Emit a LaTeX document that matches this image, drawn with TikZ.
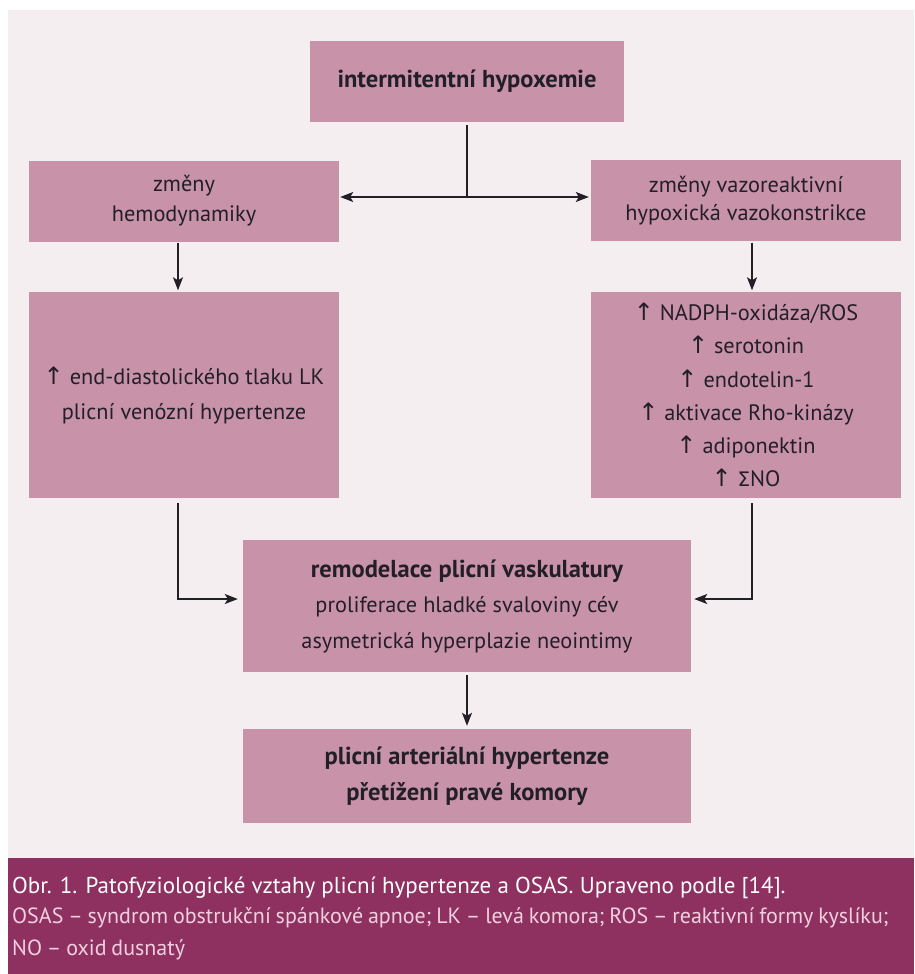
\documentclass[tikz,border=0pt]{standalone}
\usepackage{fontspec}
\setmainfont{PT Sans}
\newfontfamily\symf{DejaVu Sans}
\usetikzlibrary{arrows.meta}
\definecolor{bgpink}{HTML}{F4EEF1}
\definecolor{boxpink}{HTML}{C893A9}
\definecolor{capband}{HTML}{8E3160}
\definecolor{captext}{HTML}{F2CFDE}
\definecolor{ink}{HTML}{231F26}
\newcommand{\up}{{\symf\fontsize{24}{24}\selectfont ↑}}
\newcommand{\tightsp}{\spaceskip=0.22em plus 0.05em\relax}
\tikzset{
  box/.style={fill=boxpink, draw=none, text=ink, align=center, inner sep=0pt,
    font=\fontsize{22.3}{30}\selectfont},
  conn/.style={draw=ink, line width=1.5pt},
  arr/.style={conn, -{Stealth[length=13pt,width=10pt,inset=3pt]}},
  dblarr/.style={conn, {Stealth[length=13pt,width=10pt,inset=3pt]}-{Stealth[length=13pt,width=10pt,inset=3pt]}},
}
\begin{document}
\begin{tikzpicture}[x=1pt,y=-1pt]
\useasboundingbox (0,0) rectangle (914,974);
\fill[white] (0,0) rectangle (914,974);
\fill[bgpink] (8,10) rectangle (914,858);
\fill[capband] (8,858) rectangle (914,974);

\node[box, minimum width=314pt, minimum height=81pt, font=\fontsize{24.5}{30}\selectfont\bfseries]
  (top) at (467,81.5) {intermitentní hypoxemie};
\node[box, minimum width=310pt, minimum height=81pt, font=\fontsize{22.3}{30}\selectfont]
  (l1) at (184,201) {změny\\hemodynamiky};
\node[box, minimum width=310pt, minimum height=81pt, font=\fontsize{22.3}{28}\selectfont]
  (r1) at (746,200.5) {změny vazoreaktivní\\hypoxická vazokonstrikce};
\node[box, minimum width=310pt, minimum height=206pt, font=\fontsize{22.3}{35}\selectfont]
  (l2) at (184,395) {\up\ end-diastolického tlaku LK\\plicní venózní hypertenze};
\node[box, minimum width=310pt, minimum height=206pt, font=\fontsize{22.3}{33.2}\selectfont]
  (r2) at (746,395) {\up\ NADPH-oxidáza/ROS\\\up\ serotonin\\\up\ endotelin-1\\\up\ aktivace Rho-kinázy\\\up\ adiponektin\\\up\ {\symf\fontsize{20}{20}\selectfont Σ}NO};
\node[box, minimum width=448pt, minimum height=132pt, font=\fontsize{22.3}{35.5}\selectfont]
  (b3) at (467,606) {{\fontsize{24.5}{30}\selectfont\bfseries remodelace plicní vaskulatury}\\proliferace hladké svaloviny cév\\asymetrická hyperplazie neointimy};
\node[box, minimum width=448pt, minimum height=94pt, font=\fontsize{24.5}{36}\selectfont\bfseries]
  (b4) at (467,776) {plicní arteriální hypertenze\\přetížení pravé komory};

\coordinate (xl) at (178,0);
\coordinate (xr) at (752,0);
\coordinate (ya) at (0,599);
\coordinate (jn) at (467,197);

\draw[conn] ([yshift=-3pt]top.south) -- (jn);
\draw[dblarr] ([xshift=1pt]l1.east |- jn) -- ([xshift=-2pt]r1.west |- jn);
\draw[arr] ([yshift=-1.5pt]l1.south -| xl) -- ([yshift=1.5pt]l2.north -| xl);
\draw[arr] ([yshift=-1.5pt]r1.south -| xr) -- ([yshift=1.5pt]r2.north -| xr);
\draw[arr] ([yshift=-5pt]l2.south -| xl) |- ([xshift=-5pt]b3.west |- ya);
\draw[arr] ([yshift=-5pt]r2.south -| xr) |- ([xshift=3pt]b3.east |- ya);
\draw[arr] ([yshift=-3pt]b3.south) -- ([yshift=3pt]b4.north);

\node[anchor=base west, inner sep=0pt, text=white, font=\fontsize{23}{26}\selectfont]
  (cap1) at (12,893) {Obr. 1. Patofyziologické vztahy plicní hypertenze a OSAS. Upraveno podle [14].};
\node[anchor=north west, inner sep=0pt, text=captext, align=left, font=\fontsize{22}{32}\selectfont]
  (cap2) at (12,907) {\tightsp OSAS – syndrom obstrukční spánkové apnoe; LK – levá komora; ROS – reaktivní formy kyslíku;\\\tightsp NO – oxid dusnatý};
\end{tikzpicture}
\end{document}
